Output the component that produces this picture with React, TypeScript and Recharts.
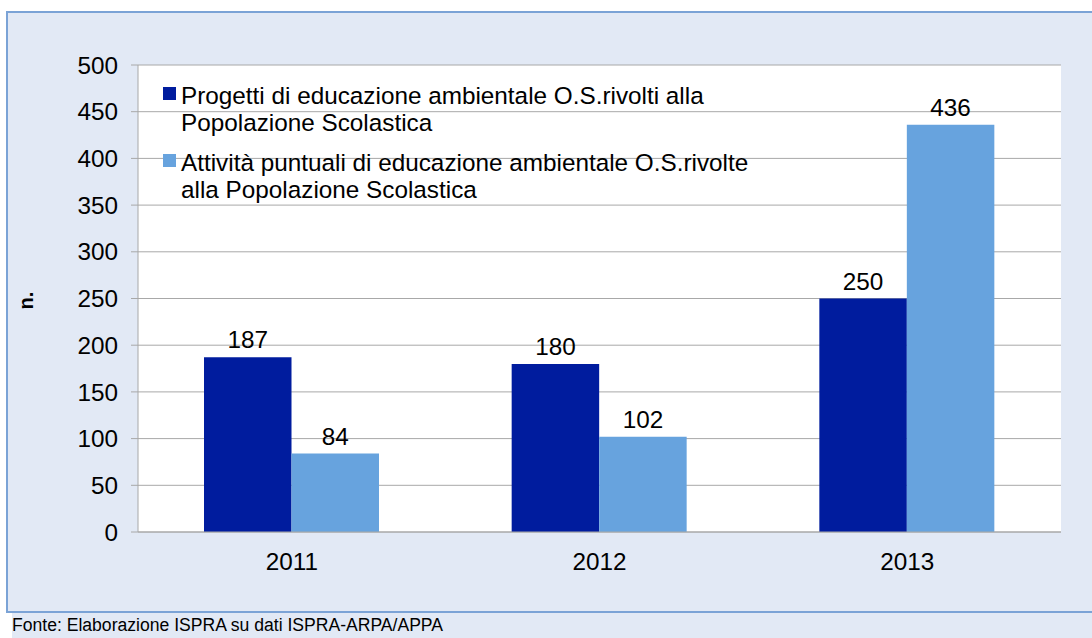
import React from "react";
import { BarChart, Bar, XAxis, YAxis, CartesianGrid, LabelList, Legend, Label } from "recharts";

const years = ["2011", "2012", "2013"];
const progetti = [187, 180, 250];
const attivita = [84, 102, 436];
const yTicks = [0, 50, 100, 150, 200, 250, 300, 350, 400, 450, 500];
const edgeTicks = [0, 1, 2, 3];

const seriesKeys = ["progetti", "attivita"];
const seriesNames = [
  "Progetti di educazione ambientale O.S.rivolti alla\nPopolazione Scolastica",
  "Attività puntuali di educazione ambientale O.S.rivolte\nalla Popolazione Scolastica",
];
const seriesColors = ["#001c9e", "#67a3de"];

const yLabel = "n.";
const source = "Fonte: Elaborazione ISPRA su dati ISPRA-ARPA/APPA";

const FONT = "'Liberation Sans', Arial, sans-serif";
const FS = 24.3;
const GRID = "#a8a8a8";

const data = years.map((year, i) => ({
  year,
  progetti: progetti[i],
  attivita: attivita[i],
}));

// eslint-disable-next-line @typescript-eslint/no-explicit-any
function LegendBox({ payload }: any) {
  const items = [...(payload || [])].sort(
    // eslint-disable-next-line @typescript-eslint/no-explicit-any
    (a: any, b: any) => seriesNames.indexOf(a.value) - seriesNames.indexOf(b.value)
  );
  return (
    <div style={{ fontFamily: FONT, fontSize: FS, lineHeight: "26.5px", color: "#000" }}>
      {items.map((entry: any, i: number) => (
        <div key={entry.value} style={{ display: "flex", marginTop: i === 0 ? 0 : 14 }}>
          <span
            style={{
              width: 13,
              height: 13,
              marginTop: 4,
              marginRight: 5,
              background: entry.color,
              flex: "none",
            }}
          />
          <span style={{ whiteSpace: "pre" }}>{entry.value}</span>
        </div>
      ))}
    </div>
  );
}

// eslint-disable-next-line @typescript-eslint/no-explicit-any
function YTitle({ viewBox }: any) {
  const cx = 33;
  const cy = viewBox.y + viewBox.height / 2 + 2;
  return (
    <text
      x={cx}
      y={cy}
      transform={`rotate(-90, ${cx}, ${cy})`}
      textAnchor="middle"
      fontFamily={FONT}
      fontSize={20}
      fontWeight="bold"
      fill="#000"
    >
      {yLabel}
    </text>
  );
}

export default function App() {
  return (
    <div
      style={{
        position: "absolute",
        left: 0,
        top: 0,
        width: 1092,
        height: 638,
        overflow: "hidden",
        background: "#fff",
      }}
    >
      <div
        style={{
          position: "absolute",
          left: 6,
          top: 11,
          width: 1100,
          height: 598,
          background: "#e2e9f5",
          border: "2px solid #7ba3d6",
        }}
      />
      <div
        style={{
          position: "absolute",
          left: 12,
          top: 613,
          width: 1080,
          height: 25,
          background: "#e2e9f5",
        }}
      />
      <svg style={{ position: "absolute", left: 0, top: 0 }} width={1092} height={638}>
        <text
          x={12}
          y={631}
          fontFamily={FONT}
          fontSize={18}
          fill="#000"
          textLength={431}
          lengthAdjust="spacingAndGlyphs"
        >
          {source}
        </text>
      </svg>
      <div style={{ position: "absolute", left: 0, top: 0 }}>
        <BarChart
          width={1092}
          height={638}
          data={data}
          margin={{ top: 65, right: 31, left: 0, bottom: 76 }}
          barGap={0}
          barSize={87.5}
        >
          <CartesianGrid
            xAxisId="cat"
            vertical={false}
            stroke={GRID}
            fill="#fff"
            fillOpacity={1}
          />
          <XAxis
            xAxisId="edge"
            type="number"
            domain={[0, 3]}
            ticks={edgeTicks}
            allowDataOverflow
            height={0}
            tick={false}
            tickLine={{ stroke: GRID }}
            tickSize={6}
            axisLine={false}
          />
          <XAxis
            xAxisId="cat"
            dataKey="year"
            height={30}
            tickLine={false}
            tickSize={0}
            tickMargin={21}
            axisLine={{ stroke: GRID }}
            tick={{ fontSize: FS, fill: "#000", fontFamily: FONT }}
          />
          <YAxis
            width={138}
            domain={[0, 500]}
            ticks={yTicks}
            interval={0}
            tickSize={7}
            tickMargin={13}
            axisLine={{ stroke: GRID }}
            tickLine={{ stroke: GRID }}
            tick={{ fontSize: FS, fill: "#000", fontFamily: FONT }}
          >
            <Label content={YTitle} />
          </YAxis>
          <Legend
            layout="vertical"
            align="center"
            verticalAlign="middle"
            content={LegendBox}
            wrapperStyle={{ left: 163, top: 83, width: 640 }}
          />
          {seriesKeys.map((key, i) => (
            <Bar
              key={key}
              xAxisId="cat"
              dataKey={key}
              name={seriesNames[i]}
              fill={seriesColors[i]}
              isAnimationActive={false}
            >
              <LabelList
                dataKey={key}
                position="top"
                offset={9}
                fill="#000"
                fontSize={FS}
                fontFamily={FONT}
              />
            </Bar>
          ))}
        </BarChart>
      </div>
    </div>
  );
}
